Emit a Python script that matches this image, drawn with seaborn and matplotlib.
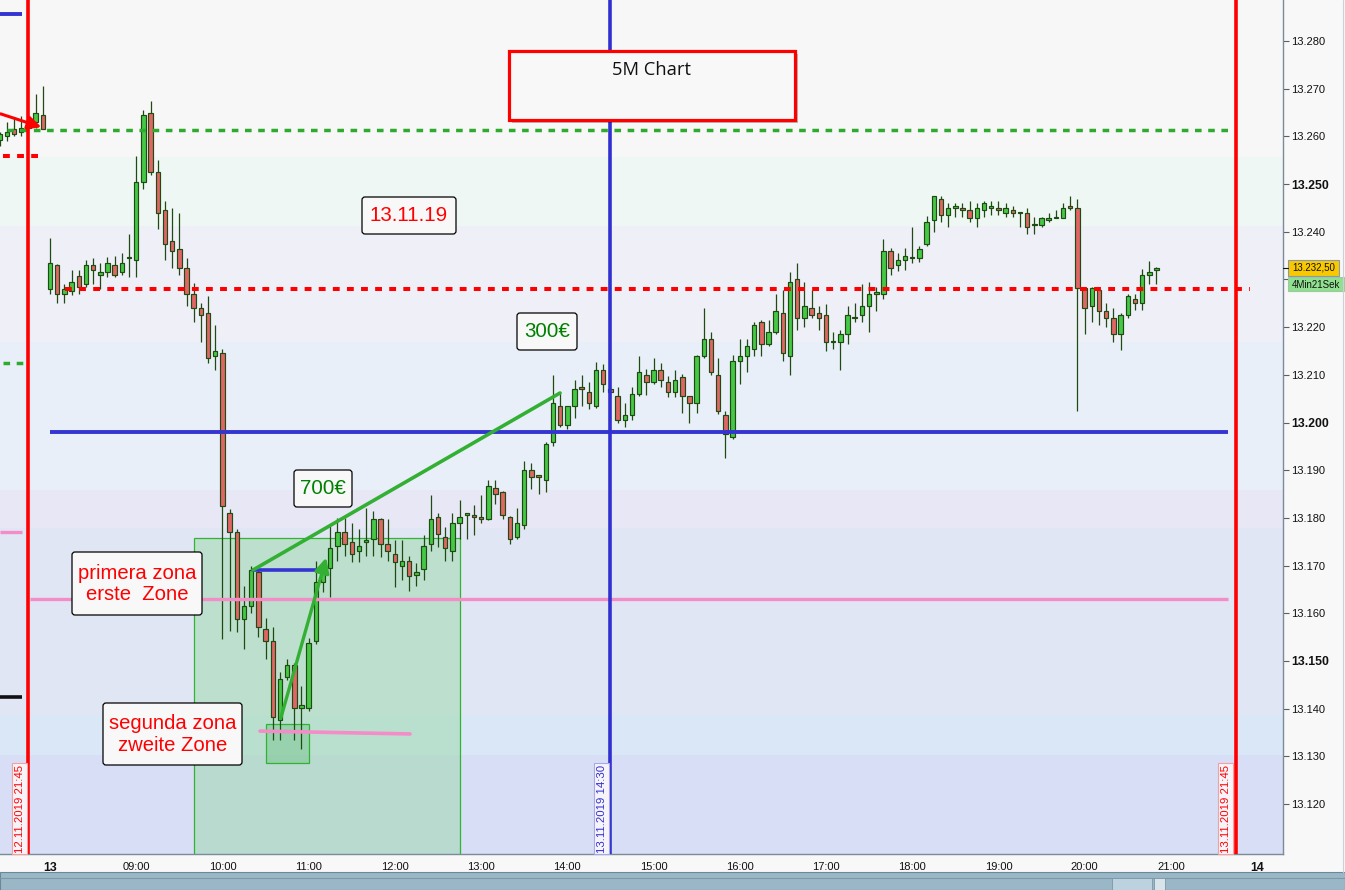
import numpy as np
import pandas as pd
import matplotlib
matplotlib.use("Agg")
import matplotlib.pyplot as plt
import seaborn as sns
from matplotlib.patches import Rectangle, FancyBboxPatch
from matplotlib.lines import Line2D

sns.set_style("white")
plt.rcParams['font.family'] = ['Liberation Sans', 'DejaVu Sans']

# ---------------- data (5-minute candles, index 0 = 08:00 on the 13th) ----------------
candle_index = list(range(-7, 155))
opens = [13259.3, 13260, 13261.5, 13261, 13261.7, 13263, 13264.5,
         13228, 13233, 13227, 13227.6, 13230.7, 13229, 13233, 13230.9, 13231.6, 13233,
         13231.6, 13234.4, 13234.1, 13250.4, 13264.9, 13252.5, 13244.6, 13238, 13236.4, 13232.4,
         13227, 13224, 13223, 13214, 13214.6, 13181.1, 13177.1, 13158.8, 13161.6, 13168.6,
         13156.7, 13154.1, 13137.7, 13146.6, 13149.1, 13140.1, 13140.1, 13154.1, 13166.6, 13169.6,
         13174.1, 13177.1, 13175, 13173.1, 13175, 13175.6, 13179.7, 13174.6, 13172.5, 13170,
         13171, 13168.1, 13169.2, 13174.6, 13180.1, 13176.1, 13173.1, 13179, 13180.7, 13180.7,
         13180.1, 13179.7, 13186.2, 13185.5, 13180.1, 13176.1, 13178.6, 13190.1, 13189.1, 13188,
         13196, 13203.5, 13199.5, 13203.5, 13207.5, 13206.4, 13203.5, 13211, 13207, 13205.6,
         13200.6, 13201.6, 13206, 13210, 13208.5, 13211, 13208.5, 13206.4, 13209.6, 13205.6,
         13204.1, 13214, 13217.5, 13210, 13201.6, 13197, 13212.9, 13214, 13215.5, 13221.1,
         13216.5, 13219, 13223, 13214, 13230, 13221.9, 13224, 13223, 13222.6, 13216.9,
         13216.9, 13218.6, 13221.9, 13222.6, 13224.4, 13227, 13227, 13236, 13233, 13234.1,
         13234.4, 13234.5, 13237.4, 13242.5, 13246.9, 13243.5, 13245, 13245, 13244.6, 13242.9,
         13244.6, 13245, 13245, 13244, 13244.6, 13244, 13244, 13241.4, 13241.4, 13242.5,
         13242.9, 13242.9, 13245.4, 13245, 13228.2, 13224.5, 13227.7, 13223.3, 13221.9, 13218.6,
         13222.6, 13225.9, 13225.1, 13230.9, 13232]
highs = [13261, 13263, 13264, 13264.2, 13264, 13268.9, 13270.6,
         13238.6, 13233.2, 13229, 13232, 13232, 13234, 13234.6, 13233.5, 13234.7, 13235,
         13235.6, 13239.6, 13255.9, 13265.6, 13267.4, 13255, 13246.4, 13245, 13243.9, 13234.5,
         13229.3, 13225.1, 13226.6, 13220.5, 13215.4, 13181.8, 13177.6, 13165.7, 13170, 13169.6,
         13159.1, 13157.1, 13147.7, 13150.4, 13149.5, 13144.8, 13154.8, 13171, 13171, 13178.3,
         13180, 13180, 13179, 13177.6, 13182.1, 13181.5, 13180, 13179.7, 13175.4, 13175.4,
         13172, 13170.6, 13176.5, 13184.7, 13181, 13178, 13181, 13183.7, 13181, 13182.8,
         13184.7, 13188, 13188, 13185.6, 13180.5, 13182.1, 13191.9, 13191.6, 13189.1, 13196,
         13210, 13206.3, 13203.5, 13208.9, 13210, 13208.5, 13212.7, 13212.3, 13207.8, 13207.5,
         13204, 13207.4, 13213.9, 13211.2, 13213.5, 13212.5, 13209.7, 13211.1, 13210.2, 13205.6,
         13214.2, 13224.1, 13219, 13213.5, 13202.5, 13214.2, 13217.5, 13217.5, 13221.1, 13221.5,
         13221.5, 13227, 13227.7, 13231.6, 13233.5, 13229.5, 13227.7, 13224.5, 13224.9, 13219,
         13219.4, 13224.4, 13225.1, 13229, 13229.5, 13228.5, 13238.5, 13236.5, 13235.6, 13236.5,
         13241, 13237.1, 13243.3, 13247.5, 13247.5, 13246.1, 13246.1, 13246.1, 13246.5, 13246.1,
         13246.5, 13246.5, 13246.5, 13246.1, 13245.5, 13244.2, 13245, 13243, 13243.1, 13243.9,
         13244.5, 13246, 13247.5, 13246.9, 13228.4, 13228.4, 13228, 13225, 13224, 13223,
         13227, 13227, 13232.1, 13233.9, 13232.7]
lows = [13258, 13259, 13260, 13260, 13261, 13261.7, 13261.5,
        13226.9, 13225, 13225, 13226.8, 13227, 13228.5, 13229, 13228, 13230.5, 13230.5,
        13231, 13230.5, 13230.5, 13249, 13251.9, 13240.6, 13234.1, 13232.4, 13230.9, 13224.4,
        13221.1, 13216.8, 13212.5, 13211, 13154.7, 13156.2, 13156.1, 13152.6, 13160, 13155.1,
        13150.4, 13133.5, 13133.5, 13146, 13133.5, 13131.5, 13139.6, 13153.6, 13164.5, 13163.5,
        13171, 13172, 13170.7, 13170.7, 13172, 13172, 13171.7, 13171, 13165.5, 13167,
        13164.6, 13165.7, 13167, 13173.1, 13174, 13171, 13171, 13175.5, 13175.5, 13176.4,
        13179, 13179.5, 13183, 13179.7, 13174.6, 13175.6, 13177.6, 13186.1, 13185.1, 13185.5,
        13195, 13199, 13198.7, 13201, 13203.5, 13202.9, 13203, 13206.4, 13205.3, 13200,
        13199, 13200.6, 13205.5, 13205.7, 13208, 13207.5, 13205.4, 13205.4, 13202.1, 13199.9,
        13202.1, 13213.5, 13210, 13201.7, 13192.6, 13196.5, 13208.1, 13210.6, 13214, 13214,
        13216, 13218.5, 13213, 13210, 13219.4, 13220, 13221.9, 13219.4, 13215.1, 13215.4,
        13211, 13216.4, 13221, 13221, 13218.9, 13223.3, 13226, 13230.9, 13231.7, 13232,
        13233.5, 13233.7, 13237, 13240, 13242, 13240.9, 13243, 13243, 13242, 13241,
        13243, 13243.5, 13243.5, 13243, 13243, 13240.9, 13239.6, 13239.6, 13241, 13242,
        13242.9, 13242.9, 13244.5, 13202.5, 13218.6, 13221, 13220.5, 13220, 13216.8, 13215.3,
        13221.9, 13223.7, 13223.7, 13229, 13229]
closes = [13260.5, 13261, 13260.5, 13261.7, 13263, 13265, 13261.5,
          13233.5, 13227, 13228, 13229.5, 13228.4, 13233, 13232, 13231.6, 13233.5, 13231,
          13233.5, 13234.6, 13250.4, 13264.5, 13252.5, 13243.9, 13237.4, 13236, 13232.4, 13226.9,
          13224, 13222.6, 13213.6, 13215, 13182.6, 13177.1, 13158.8, 13161.6, 13169.1, 13157.1,
          13154.1, 13138.2, 13146.2, 13149.1, 13140.1, 13140.7, 13153.7, 13166.6, 13169.2, 13173.6,
          13177.1, 13174.6, 13172.5, 13174.1, 13175.1, 13179.7, 13174.6, 13173.1, 13170.7, 13171,
          13167.8, 13168.6, 13174.1, 13179.7, 13176.6, 13173.6, 13179, 13180.1, 13180.8, 13180.1,
          13179.7, 13186.6, 13185.1, 13180.7, 13175.6, 13179, 13190.1, 13188.6, 13188.6, 13195.6,
          13204.1, 13199.5, 13203.5, 13207, 13207, 13204.1, 13211, 13208.1, 13206.5, 13200.6,
          13201.6, 13206, 13210.5, 13208.5, 13211, 13209, 13206.4, 13209, 13205.6, 13204.1,
          13214, 13217.5, 13210.6, 13202.5, 13197.6, 13212.9, 13214, 13216.1, 13220.5, 13216.5,
          13219, 13223.4, 13214.6, 13229.5, 13221.9, 13224.4, 13222.6, 13221.9, 13216.8, 13217,
          13218.6, 13222.6, 13222, 13224.5, 13227, 13227.1, 13236, 13232.4, 13234.1, 13234.9,
          13234.6, 13236.4, 13242, 13247.5, 13243.5, 13245, 13245.1, 13244.6, 13242.9, 13245,
          13246, 13245.1, 13244.6, 13245, 13244, 13243.9, 13241, 13241.5, 13242.9, 13242.9,
          13243, 13245, 13245, 13228.2, 13224, 13228.2, 13223.3, 13221.9, 13218.6, 13222.6,
          13226.6, 13225.1, 13230.9, 13231.6, 13232.5]

x_tick_pos = [0, 12, 24, 36, 48, 60, 72, 84, 96, 108, 120, 132, 144, 156, 168]
x_tick_labels = ["13", "09:00", "10:00", "11:00", "12:00", "13:00", "14:00", "15:00",
                 "16:00", "17:00", "18:00", "19:00", "20:00", "21:00", "14"]
y_tick_vals = list(range(13120, 13290, 10))
y_tick_hidden = [13230]   # covered by the price labels in the original

red_level = 13228.1
green_level = 13261.4
blue_level = 13198.0
pink_level = 13162.9
pink_short_level = 13135.1
last_price_label = "13.232,50"
last_price = 13232.5
timer_label = "4Min21Sek"
red_vlines = [-3, 165]
blue_vline = 78

# ---------------- layout helpers ----------------
W, H, DPI = 1345, 890, 100
X0_PX, PX_PER_BAR = 50.0, 7.185
Y_TOP_VAL, PX_PER_PT = 13288.6, 4.769
AX_RIGHT, AX_BOTTOM = 1283, 854

def xk(x):
    return (x - X0_PX) / PX_PER_BAR

def yv(y):
    return Y_TOP_VAL - y / PX_PER_PT

def fx(x):
    return x / W

def fy(y):
    return 1 - y / H

fig = plt.figure(figsize=(W / DPI, H / DPI), dpi=DPI, facecolor='#f8f8f8')
ax = fig.add_axes([0, (H - AX_BOTTOM) / H, AX_RIGHT / W, AX_BOTTOM / H])
ax.set_xlim(xk(0), xk(AX_RIGHT))
ax.set_ylim(yv(AX_BOTTOM), Y_TOP_VAL)

# background bands
band_edges = [13300, 13255.7, 13241.3, 13216.8, 13185.8, 13177.8, 13138.6, 13130.3, 13000]
band_colors = ['#f7f7f7', '#eff7f4', '#efeff8', '#e9eff8', '#e8e7f5', '#e1e6f5', '#d9e7f6', '#d8def6']
for top, bot, col in zip(band_edges[:-1], band_edges[1:], band_colors):
    ax.axhspan(bot, top, color=col, lw=0, zorder=0)

# zones
ax.add_patch(Rectangle((xk(194), yv(900)), xk(460) - xk(194), yv(538) - yv(900),
                       facecolor=(141 / 255, 214 / 255, 153 / 255, 0.42), edgecolor='#2fb52f',
                       lw=0.9, zorder=1))
ax.add_patch(Rectangle((xk(266), yv(763)), xk(309) - xk(266), yv(724) - yv(763),
                       facecolor=(90 / 255, 185 / 255, 110 / 255, 0.35), edgecolor='#2fb52f',
                       lw=0.9, zorder=1.5))

# candles
df = pd.DataFrame(dict(k=candle_index, o=opens, h=highs, l=lows, c=closes))
up = df.c >= df.o
body_col = np.where(up, '#45c845', '#e06666')
ax.vlines(df.k, df.l, df.h, color='#1f4a12', lw=0.9, zorder=3)
bottom = np.minimum(df.o, df.c)
height = np.maximum(np.abs(df.c - df.o), 0.3)
ax.bar(df.k, height, bottom=bottom, width=0.62, color=body_col, edgecolor='#1f4a12',
       linewidth=0.85, zorder=4)

# horizontal levels
ax.hlines(green_level, xk(7), xk(1230), color='#2eaa2e', lw=2.5, linestyles=(0, (1.9, 1.9)), zorder=6)
ax.hlines(red_level, xk(65), xk(1250), color='#ff0000', lw=2.9, linestyles=(0, (1.7, 1.8)), zorder=6)
ax.hlines(blue_level, xk(50), xk(1228), color='#3434d2', lw=2.8, zorder=6)
ax.hlines(pink_level, xk(30), xk(1228), color='#f48cc8', lw=2.4, zorder=6)
ax.plot([xk(260), xk(410)], [pink_short_level + 0.2, pink_short_level - 0.4], color='#f48cc8', lw=2.6, zorder=6)

# short marks at the left edge
ax.hlines(yv(14), xk(0), xk(22), color='#3434d2', lw=2.8, zorder=6)
ax.hlines(yv(156), xk(3), xk(38), color='#ff0000', lw=2.9, linestyles=(0, (1.7, 1.8)), zorder=6)
ax.hlines(yv(363), xk(3), xk(24), color='#2eaa2e', lw=2.5, linestyles=(0, (1.9, 1.9)), zorder=6)
ax.hlines(yv(532), xk(0), xk(22), color='#f48cc8', lw=2.4, zorder=6)
ax.hlines(yv(697), xk(0), xk(22), color='#111111', lw=2.6, zorder=6)

# vertical time markers
for kv in red_vlines:
    ax.axvline(kv, color='#ff0000', lw=2.6, zorder=7)
ax.axvline(blue_vline, color='#3030d0', lw=2.6, zorder=7)

# drawings
ax.plot([xk(253), xk(322)], [yv(570), yv(570)], color='#3434d2', lw=2.6, zorder=8)
ax.plot([xk(253), xk(560)], [yv(570), yv(393)], color='#33b033', lw=2.6, zorder=8, solid_capstyle='round')
ax.annotate('', xy=(xk(327), yv(555)), xytext=(xk(280), yv(721)),
            arrowprops=dict(arrowstyle='-|>', color='#33b033', lw=2.4, mutation_scale=22), zorder=8)
ax.annotate('', xy=(xk(44), yv(128)), xytext=(xk(-2), yv(113)),
            arrowprops=dict(arrowstyle='-|>', color='#ff0000', lw=2.2, mutation_scale=20), zorder=8)

# axes styling
for s in ['left', 'top']:
    ax.spines[s].set_visible(False)
for s in ['right', 'bottom']:
    ax.spines[s].set_color('#7a8b99')
    ax.spines[s].set_linewidth(1.0)
ax.yaxis.tick_right()
ax.set_yticks(y_tick_vals)
ax.set_yticklabels(["" if v in y_tick_hidden else f"{v / 1000:.3f}" for v in y_tick_vals])
ax.tick_params(axis='y', direction='out', length=4, width=0.8, color='#55606a', pad=2,
               labelsize=8.0, labelcolor='#111111')
for lab, v in zip(ax.get_yticklabels(), y_tick_vals):
    if v % 50 == 0:
        lab.set_fontweight('bold')
        lab.set_fontsize(8.8)
ax.set_xticks(x_tick_pos)
ax.set_xticklabels(x_tick_labels)
ax.tick_params(axis='x', direction='out', length=4, width=0.8, color='#55606a', pad=2,
               labelsize=8.0, labelcolor='#111111')
for lab, t in zip(ax.get_xticklabels(), x_tick_labels):
    if len(t) == 2:
        lab.set_fontweight('bold')
        lab.set_fontsize(8.8)
ax.grid(False)

# ---------------- figure-level annotation boxes ----------------
def fig_box(x0, y0, x1, y1, fc, ec, lw=1.0, r=0, z=5, alpha=1.0):
    style = f"round,pad=0,rounding_size={r / W}" if r else "square,pad=0"
    p = FancyBboxPatch((fx(x0), fy(y1)), fx(x1) - fx(x0), fy(y0) - fy(y1), boxstyle=style,
                       transform=fig.transFigure, facecolor=fc, edgecolor=ec, lw=lw,
                       zorder=z, alpha=alpha, mutation_aspect=W / H)
    fig.add_artist(p)

def fig_label(cx, cy, text, color, size, z=6, **kw):
    fig.text(fx(cx), fy(cy), text, ha='center', va='center', color=color, fontsize=size, zorder=z, **kw)

# 5M Chart
fig_box(512, 54, 798, 123, '#000000', 'none', lw=0, z=4.5, alpha=0.25)
fig_box(509, 51, 795, 120, (0.973, 0.973, 0.976, 0.9), '#ff0000', lw=2.3)
fig_label(651, 70, "5M Chart", '#111111', 13.2, family=['Open Sans', 'DejaVu Sans'])

# info boxes
fig_box(362, 197, 456, 234, '#f8f8f8', '#000000', lw=0.9, r=3)
fig_label(409, 215.5, "13.11.19", '#ff0000', 14.8)
fig_box(517, 313, 577, 350, '#f8f8f8', '#000000', lw=0.9, r=3)
fig_label(547, 331.5, "300€", '#008000', 14.8)
fig_box(294, 470, 352, 507, '#f8f8f8', '#000000', lw=0.9, r=3)
fig_label(323, 488.5, "700€", '#008000', 14.8)
fig_box(72, 552, 202, 615, '#f8f8f8', '#000000', lw=0.9, r=3)
fig_label(137, 584, "primera zona\nerste  Zone", '#ff0000', 14.6, linespacing=1.15)
fig_box(103, 703, 242, 765, '#f8f8f8', '#000000', lw=0.9, r=3)
fig_label(172.5, 734.5, "segunda zona\nzweite Zone", '#ff0000', 14.6, linespacing=1.15)

# vertical date labels
for x0, txt, col, ec in [(12, "12.11.2019 21:45", '#ff0000', '#f2a0a0'),
                         (594, "13.11.2019 14:30", '#3030d0', '#a8a8e8'),
                         (1218, "13.11.2019 21:45", '#ff0000', '#f2a0a0')]:
    fig_box(x0, 763, x0 + 15, 854, '#f6f4f8', ec, lw=0.8, z=5)
    fig_label(x0 + 8, 809, txt, col, 8.2, rotation=90)

# price labels on the right axis
fig_box(1288, 260, 1339, 276, '#f8c800', '#8899aa', lw=0.8)
fig_label(1313.5, 268, last_price_label, '#111111', 7.0)
fig_box(1288, 277, 1344, 291, '#8fe08f', '#a0c8a0', lw=0.8)
fig_label(1316, 284.5, timer_label, '#111111', 7.0)
fig.add_artist(Line2D([fx(1283), fx(1288)], [fy(267.5), fy(267.5)], transform=fig.transFigure,
                      color='#111111', lw=0.8, zorder=6))
fig.add_artist(Line2D([fx(1343), fx(1343)], [fy(0), fy(872)], transform=fig.transFigure,
                      color='#c9d2da', lw=0.8, zorder=6))

# bottom scrollbar strip
fig_box(0, 872, W, H, '#9ab7c7', '#6e8796', lw=0.8, z=5)
fig.add_artist(Line2D([0, 1], [fy(878), fy(878)], transform=fig.transFigure, color='#7d97a6', lw=0.8, zorder=6))
fig_box(1112, 878, 1152, 890, '#bcd3df', '#7d97a6', lw=0.6, z=6)
fig_box(1154, 878, 1165, 890, '#d8e4ea', '#7d97a6', lw=0.6, z=6)

fig.savefig("out.png", dpi=DPI, facecolor=fig.get_facecolor())
